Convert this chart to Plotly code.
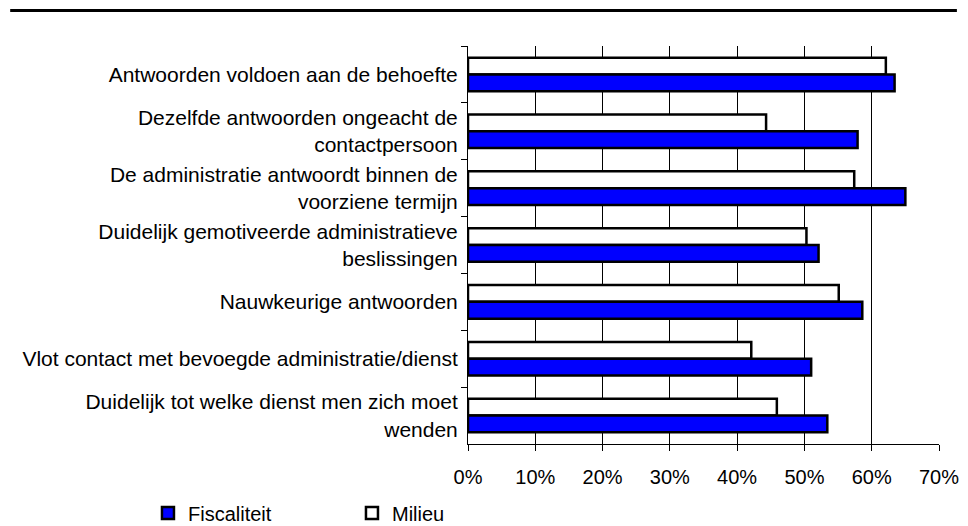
import plotly.graph_objects as go

categories = [
    "Antwoorden voldoen aan de behoefte",
    "Dezelfde antwoorden ongeacht de<br>contactpersoon",
    "De administratie antwoordt binnen de<br>voorziene termijn",
    "Duidelijk gemotiveerde administratieve<br>beslissingen",
    "Nauwkeurige antwoorden",
    "Vlot contact met bevoegde administratie/dienst",
    "Duidelijk tot welke dienst men zich moet<br>wenden",
]

fiscaliteit = [0.634, 0.579, 0.650, 0.521, 0.586, 0.510, 0.534]
milieu = [0.621, 0.443, 0.574, 0.503, 0.551, 0.421, 0.459]

FONT = "Liberation Sans, Arial, Helvetica, sans-serif"

fig = go.Figure()

# Milieu first so it sits above Fiscaliteit with the reversed y axis
fig.add_trace(go.Bar(
    y=categories,
    x=milieu,
    name="Milieu",
    orientation="h",
    marker=dict(color="white", line=dict(color="black", width=2.5)),
))
fig.add_trace(go.Bar(
    y=categories,
    x=fiscaliteit,
    name="Fiscaliteit",
    orientation="h",
    marker=dict(color="#0000ff", line=dict(color="black", width=2.5)),
))

# page body has an 8px margin, so the figure is 8px smaller than the window
fig.update_layout(
    width=960,
    height=518,
    margin=dict(l=460, r=29, t=38, b=82),
    paper_bgcolor="white",
    plot_bgcolor="white",
    font=dict(family=FONT, size=20, color="black"),
    barmode="group",
    bargap=0.41,
    bargroupgap=0,
    legend=dict(
        orientation="h",
        traceorder="reversed",
        xref="container",
        yref="container",
        x=0.1458,
        y=0.025,
        xanchor="left",
        yanchor="middle",
        entrywidth=159,
        font=dict(family=FONT, size=20, color="black"),
        bgcolor="rgba(0,0,0,0)",
    ),
    shapes=[
        dict(
            type="line", xref="paper", yref="paper",
            x0=-0.972, x1=1.038, y0=1.0893, y1=1.0893,
            line=dict(color="black", width=3),
        )
    ],
)

fig.update_xaxes(
    range=[0, 0.7],
    dtick=0.1,
    tickformat=".0%",
    showgrid=True,
    gridcolor="black",
    gridwidth=1,
    showline=True,
    linecolor="black",
    linewidth=1,
    ticks="outside",
    ticklen=6,
    tickcolor="black",
    ticklabelstandoff=9,
    zeroline=False,
    automargin=False,
    tickfont=dict(family=FONT, size=20, color="black"),
)

fig.update_yaxes(
    autorange="reversed",
    showgrid=False,
    showline=True,
    linecolor="black",
    linewidth=1,
    ticks="outside",
    ticklen=6,
    tickcolor="black",
    tickson="boundaries",
    ticklabelstandoff=5,
    automargin=False,
    tickfont=dict(family=FONT, size=21, color="black"),
)

fig.write_html("out.html")
